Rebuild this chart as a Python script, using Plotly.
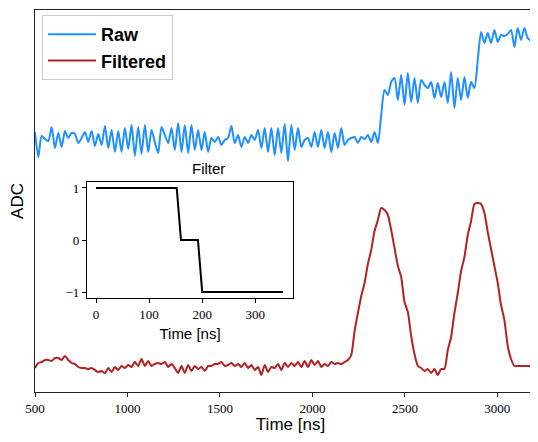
import numpy as np
import plotly.graph_objects as go

# sample grid of the traces (ns)
T0_NS = 500
DT_NS = 18

# raw ADC trace, one value per sample
raw = [
    268, 243, 264, 261, 259, 273, 252, 267, 253, 269,
    262, 267, 266, 257, 262, 268, 258, 269, 254, 266,
    255, 274, 252, 270, 248, 269, 248, 272, 251, 275,
    244, 273, 246, 275, 248, 270, 258, 247, 273, 265,
    257, 272, 250, 277, 248, 275, 247, 275, 250, 270,
    250, 268, 248, 262, 258, 263, 255, 260, 262, 274,
    257, 265, 253, 263, 257, 265, 260, 270, 252, 272,
    248, 272, 245, 272, 247, 276, 239, 275, 250, 272,
    253, 260, 262, 253, 268, 253, 270, 252, 268, 248,
    267, 252, 272, 255, 260, 262, 263, 257, 263, 261,
    265, 258, 268, 257,
    285,
    310, 305, 318, 322, 300, 325, 295, 327, 298, 322,
    297, 320, 315, 312, 318, 302, 317, 303, 318, 297,
    328, 292, 322, 300, 323, 302, 318, 312,
    340,
    368, 357, 367, 357, 370, 358, 365, 364, 366, 370,
    353, 372, 360, 372, 362, 360, 364, 356,
]

# filtered trace, same grid
filtered = [
    32, 37, 38, 40, 40, 39, 42, 42, 40, 44,
    40, 37, 36, 33, 32, 32, 31, 32, 30, 28,
    29, 27, 32, 28, 33, 30, 34, 32, 35, 33,
    38, 34, 41, 34, 39, 34, 36, 37, 36, 38,
    33, 36, 32, 27, 34, 27, 35, 29, 34, 31,
    33, 29,
    34, 34, 36, 36, 38, 34, 35, 37, 34, 36,
    33, 37, 32, 35, 30, 33, 25, 35, 28, 33,
    32, 36, 30, 37, 33, 37, 34, 38, 33, 39,
    33, 40, 35, 39, 33, 36, 34, 38, 36, 37,
    36, 38, 40,
    45, 69, 87, 104, 117, 136, 150, 169, 180, 192,
    190, 185, 170, 152, 134, 123, 98, 88, 64, 46,
    34, 32, 29, 31, 27, 31, 25, 31, 31, 50,
    63, 87, 107, 129, 143, 165, 179, 196, 197, 196,
    187, 168, 151, 134, 117, 95, 80, 54, 41,
    34, 34, 34, 34, 34, 34, 34, 34,
]

# filter kernel (inset)
filt_t = [0, 152, 160, 192, 200, 352]
filt_v = [1, 1, 0, 0, -1, -1]

t = T0_NS + DT_NS * np.arange(len(raw))

SERIF = "Liberation Serif"
SANS = "Liberation Sans"
AX = "#222"

fig = go.Figure()
fig.add_trace(go.Scatter(x=t, y=raw, mode="lines", name="<b>Raw</b>",
                         line=dict(color="#1E90FF", width=2, shape="spline", smoothing=0.7)))
fig.add_trace(go.Scatter(x=t, y=filtered, mode="lines", name="<b>Filtered</b>",
                         line=dict(color="#B22222", width=2, shape="spline", smoothing=0.6)))
fig.add_trace(go.Scatter(x=filt_t, y=filt_v, mode="lines", showlegend=False,
                         line=dict(color="black", width=2), xaxis="x2", yaxis="y2"))

# page body has an 8px margin -> figure shifted up/left, right side runs past the window
PLOT_W = 538 - 27
fig.update_layout(
    width=538, height=426,
    margin=dict(l=27, r=0, t=2, b=42),
    plot_bgcolor="white", paper_bgcolor="white",
    xaxis=dict(range=[500, 3263], tickvals=[500, 1000, 1500, 2000, 2500, 3000],
               showline=True, linecolor=AX, linewidth=1.2, mirror=True, automargin=False,
               ticks="outside", ticklen=4, tickcolor=AX, showgrid=False, zeroline=False,
               tickfont=dict(family=SERIF, size=13, color="black"),
               title=dict(text="Time [ns]", font=dict(family=SANS, size=17, color="black"),
                          standoff=6)),
    yaxis=dict(range=[8, 390], showline=True, linecolor=AX, linewidth=1.2, automargin=False,
               showticklabels=False, ticks="", showgrid=False, zeroline=False,
               title=dict(text="ADC", font=dict(family=SANS, size=17, color="black"),
                          standoff=6)),
    xaxis2=dict(domain=[52 / PLOT_W, 258 / PLOT_W], anchor="y2", range=[-17, 371],
                tickvals=[0, 100, 200, 300], showline=True, linecolor="black", linewidth=1.2,
                mirror=True, ticks="outside", ticklen=4, tickcolor="black",
                showgrid=False, zeroline=False,
                tickfont=dict(family=SERIF, size=13, color="black"),
                title=dict(text="Time [ns]", font=dict(family=SANS, size=15, color="black"),
                           standoff=7)),
    yaxis2=dict(domain=[0.246, 0.5497], anchor="x2", range=[-1.115, 1.115],
                tickvals=[-1, 0, 1], showline=True, linecolor="black", linewidth=1.2,
                mirror=True, ticks="outside", ticklen=4, tickcolor="black",
                showgrid=False, zeroline=False,
                tickfont=dict(family=SERIF, size=13, color="black")),
    legend=dict(x=7 / PLOT_W, y=0.987, xanchor="left", yanchor="top",
                bgcolor="white", bordercolor="#ccc", borderwidth=1,
                font=dict(family=SANS, size=18, color="black"), itemwidth=48),
    annotations=[dict(text="Filter", x=155 / PLOT_W, y=0.586, xref="paper", yref="paper",
                      showarrow=False, font=dict(family=SANS, size=15, color="black"))],
)

fig.write_html("out.html")
